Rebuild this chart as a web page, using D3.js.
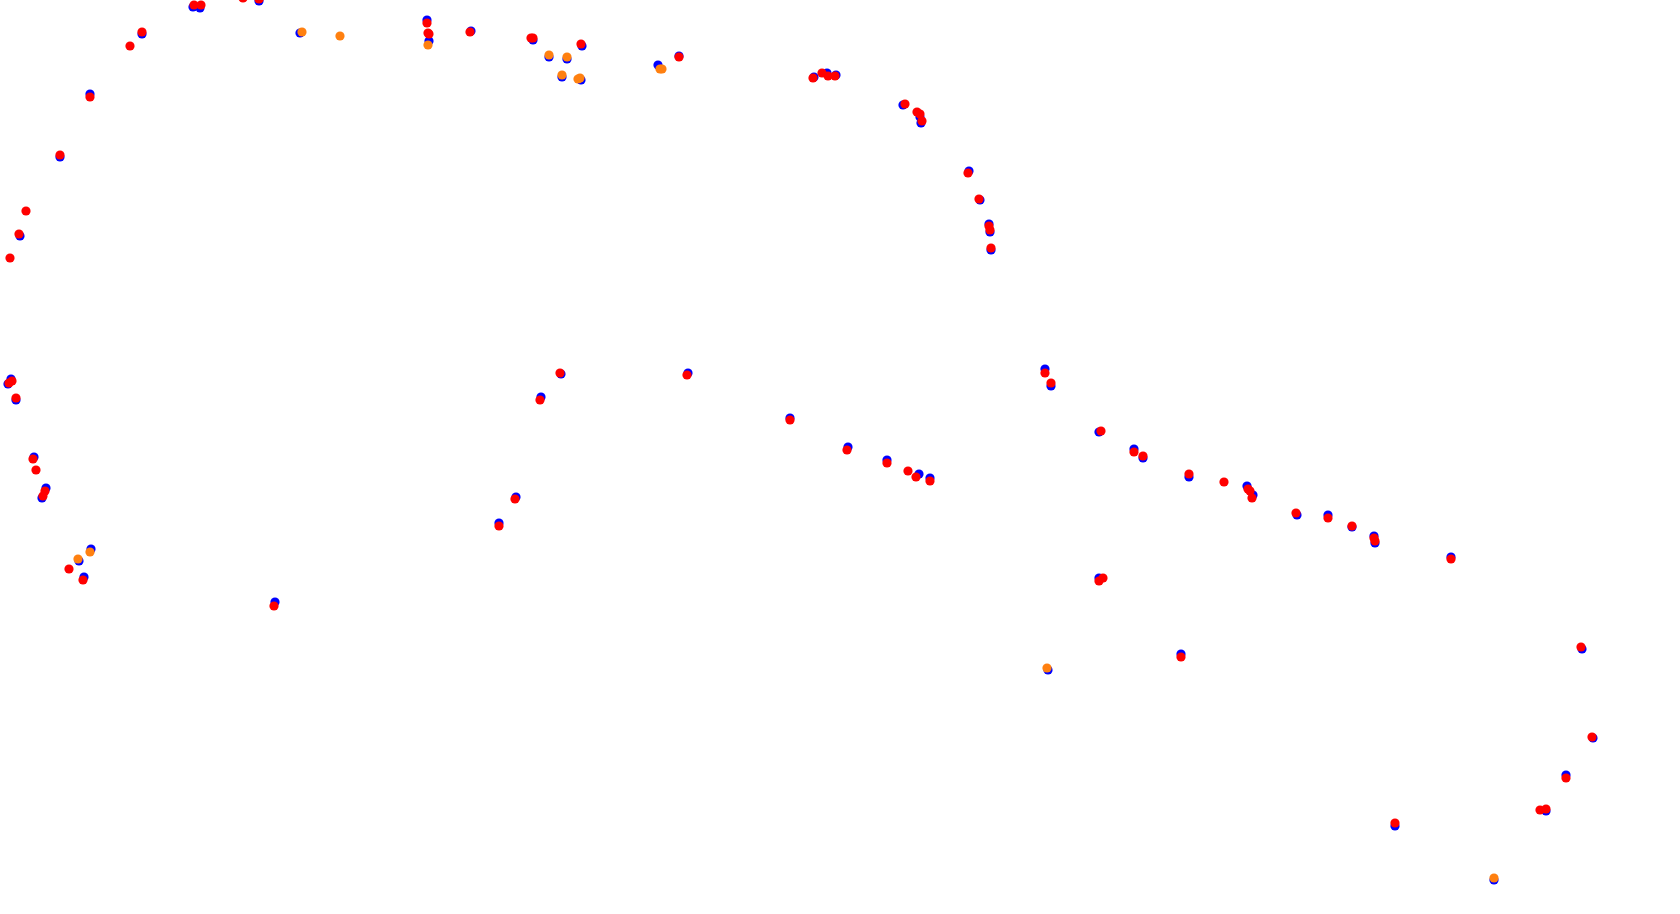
<!DOCTYPE html>
<html>
<head>
<meta charset="utf-8">
<script src="https://cdn.jsdelivr.net/npm/d3@7"></script>
<style>
  html, body { margin: 0; padding: 0; background: #ffffff; overflow: hidden; }
</style>
</head>
<body>
<div id="chart"></div>
<script>
// track positions, one [x, y] pair per sample
var bluePoints = [
  [193, 7], [200, 8], [259, 1], [142, 34], [90, 94], [60, 157], [20, 236], [300, 33],
  [427, 20], [429, 41], [471, 31], [533, 40], [582, 46], [549, 57], [567, 59], [562, 77],
  [581, 80], [658, 65], [679, 56], [814, 77], [827, 73], [836, 75], [903, 105], [920, 117],
  [921, 123], [969, 171], [980, 200], [989, 224], [990, 232], [991, 250],
  [11, 379], [8, 384], [16, 400], [34, 457], [46, 488], [42, 498], [91, 549], [79, 561],
  [84, 577], [275, 602],
  [561, 374], [541, 397], [688, 373], [790, 418], [848, 447], [887, 460], [919, 474],
  [930, 478], [516, 497], [499, 523],
  [1045, 369], [1051, 386], [1099, 432], [1134, 449], [1143, 458], [1189, 477], [1247, 486],
  [1253, 495], [1297, 515], [1328, 515], [1352, 527], [1374, 536], [1375, 543], [1451, 557],
  [1099, 578], [1181, 654], [1048, 670], [1582, 649], [1593, 738], [1566, 775], [1546, 811],
  [1395, 826], [1494, 880]
];

var redPoints = [
  [194, 5], [201, 5], [243, -2], [259, -1], [142, 32], [130, 46], [90, 97], [60, 155],
  [26, 211], [19, 234], [10, 258],
  [427, 23], [428, 33], [429, 34], [470, 32], [531, 38], [533, 38], [581, 44], [679, 57],
  [813, 78], [822, 73], [828, 76], [835, 76], [905, 104], [917, 112], [920, 114], [922, 121],
  [968, 173], [979, 199], [989, 226], [990, 230], [991, 248],
  [12, 381], [9, 383], [16, 398], [33, 459], [36, 470], [45, 491], [43, 496], [69, 569],
  [83, 580], [274, 606],
  [560, 373], [540, 400], [687, 375], [790, 420], [847, 450], [887, 463], [908, 471],
  [916, 477], [930, 481], [515, 499], [499, 526],
  [1045, 373], [1051, 383], [1101, 431], [1134, 452], [1143, 456], [1189, 474], [1224, 482],
  [1248, 489], [1250, 491], [1252, 498], [1296, 513], [1328, 518], [1352, 526], [1374, 538],
  [1375, 541], [1451, 559], [1099, 581], [1103, 578],
  [1181, 657], [1581, 647], [1592, 737], [1566, 778], [1540, 810], [1546, 809], [1395, 823]
];

var orangePoints = [
  [302, 32], [340, 36], [428, 45], [549, 55], [567, 57], [562, 75], [580, 78], [578, 79],
  [660, 69], [662, 69], [90, 552], [78, 559], [1047, 668], [1494, 878]
];

var width = 1680,
    height = 914,
    dotRadius = 4.6;

var svg = d3.select("#chart").append("svg")
    .attr("width", width)
    .attr("height", height);

var x = d3.scaleLinear().domain([0, 1680]).range([0, width]);
var y = d3.scaleLinear().domain([0, 914]).range([0, height]);

// blue first, the other two are drawn on top of it
function drawDots(data, color) {
    svg.append("g")
        .selectAll("circle")
        .data(data)
        .join("circle")
        .attr("cx", d => x(d[0]))
        .attr("cy", d => y(d[1]))
        .attr("r", dotRadius)
        .attr("fill", color);
}

drawDots(bluePoints, "#0000ff");
drawDots(redPoints, "#ff0000");
drawDots(orangePoints, "#ff8010");
</script>
</body>
</html>
